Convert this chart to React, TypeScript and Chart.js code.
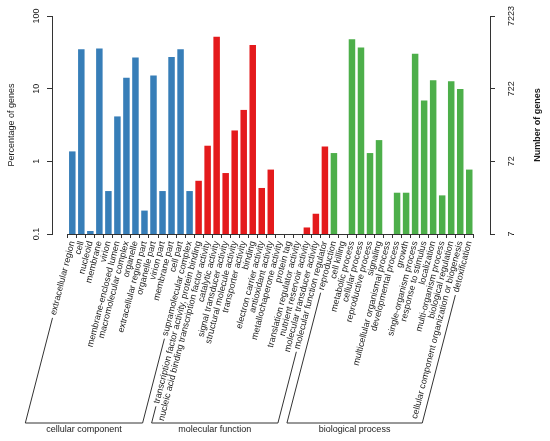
import { useEffect, useRef } from "react"
import { Chart, registerables } from "chart.js"

Chart.register(...registerables)

// GO terms and the share of genes (%) in each
const componentTerms = [
    "extracellular region", "cell", "nucleoid", "membrane", "virion",
    "membrane-enclosed lumen", "macromolecular complex", "organelle",
    "extracellular region part", "organelle part", "virion part",
    "membrane part", "cell part", "supramolecular complex",
]
const componentPercent = [1.37, 35, 0.11, 35.7, 0.39, 4.15, 14.1, 26.9, 0.21, 15.2, 0.39, 27.2, 35, 0.39]

const functionTerms = [
    "transcription factor activity, protein binding",
    "nucleic acid binding transcription factor activity",
    "catalytic activity", "signal transducer activity",
    "structural molecule activity", "transporter activity", "binding",
    "electron carrier activity", "antioxidant activity",
    "metallochaperone activity", "protein tag",
    "translation regulator activity", "nutrient reservoir activity",
    "molecular transducer activity", "molecular function regulator",
]
const functionPercent = [0.54, 1.64, 52, 0.69, 2.66, 5.1, 39.8, 0.43, 0.77, null, null, null, 0.123, 0.19, 1.6]

const processTerms = [
    "reproduction", "cell killing", "metabolic process", "cellular process",
    "reproductive process", "signaling", "multicellular organismal process",
    "developmental process", "growth", "single-organism process",
    "response to stimulus", "localization", "multi-organism process",
    "biological regulation", "cellular component organization or biogenesis",
    "detoxification",
]
const processPercent = [1.3, null, 48, 36.9, 1.3, 1.96, null, 0.37, 0.37, 30.2, 6.9, 13.1, 0.34, 12.6, 9.9, 0.77]

const groupNames = ["cellular component", "molecular function", "biological process"]
const groupColors = ["#377EB8", "#E41A1C", "#4DAF4A"]
const percentTicks = [0.1, 1, 10, 100]
const totalGenes = 7223

const allTerms = [...componentTerms, ...functionTerms, ...processTerms]
const allPercent = [...componentPercent, ...functionPercent, ...processPercent]
const groupSizes = [componentTerms.length, functionTerms.length, processTerms.length]
const barColors = groupSizes.flatMap((n, g) => Array(n).fill(groupColors[g]))

const FONT = '"Liberation Sans", Arial, Helvetica, sans-serif'
const TEXT = "#1a1a1a"
const LINE = "#333333"
const LABEL_ROT = 75.5
const TICK_LEN = 4
const TICK_PAD = 2

// draws the x baseline, the slanted group brackets and the right-hand title
const bracketPlugin = {
    id: "goBrackets",
    afterDraw(chart: Chart) {
        const { ctx, chartArea } = chart
        const x = chart.scales.x
        const rad = (LABEL_ROT * Math.PI) / 180
        const cos = Math.cos(rad)
        const sin = Math.sin(rad)
        const labelTop = x.top + TICK_LEN + TICK_PAD + 5.4 * cos
        const bottomY = 423

        ctx.save()
        ctx.strokeStyle = LINE
        ctx.lineWidth = 1
        ctx.font = `9px ${FONT}`

        ctx.beginPath()
        ctx.moveTo(x.getPixelForValue(-0.5), chartArea.bottom + 0.5)
        ctx.lineTo(x.getPixelForValue(allTerms.length - 0.5), chartArea.bottom + 0.5)
        ctx.stroke()

        let start = 0
        groupSizes.forEach((n, g) => {
            const ends = [start, start + n - 1].map((i) => {
                const tx = x.getPixelForValue(i)
                const w = ctx.measureText(allTerms[i]).width + 3
                const sx = tx - w * cos
                const sy = labelTop + w * sin
                const ex = sx - ((bottomY - sy) * cos) / sin
                return { sx, sy, ex }
            })
            ctx.beginPath()
            ctx.moveTo(ends[0].sx, ends[0].sy)
            ctx.lineTo(ends[0].ex, bottomY)
            ctx.lineTo(ends[1].ex, bottomY)
            ctx.lineTo(ends[1].sx, ends[1].sy)
            ctx.stroke()

            ctx.fillStyle = TEXT
            ctx.textAlign = "center"
            ctx.textBaseline = "middle"
            ctx.fillText(groupNames[g], (ends[0].ex + ends[1].ex) / 2, bottomY + 7)
            start += n
        })

        ctx.translate(538, (chartArea.top + chartArea.bottom) / 2)
        ctx.rotate(-Math.PI / 2)
        ctx.font = `bold 9px ${FONT}`
        ctx.fillStyle = TEXT
        ctx.textAlign = "center"
        ctx.textBaseline = "middle"
        ctx.fillText("Number of genes", 0, 0)
        ctx.restore()
    },
}

export default function App() {
    const chartRef = useRef<HTMLCanvasElement | null>(null)
    const chartInstance = useRef<Chart | null>(null)

    useEffect(() => {
        if (!chartRef.current) return
        if (chartInstance.current) {
            chartInstance.current.destroy()
        }

        Chart.defaults.font.family = FONT
        Chart.defaults.font.size = 9
        Chart.defaults.color = TEXT

        chartInstance.current = new Chart(chartRef.current, {
            type: "bar",
            data: {
                datasets: [
                    {
                        data: allPercent.map((v, i) => ({ x: i, y: v })) as any,
                        backgroundColor: barColors,
                        borderWidth: 0,
                        categoryPercentage: 1,
                        barPercentage: 0.72,
                    },
                ],
            },
            options: {
                animation: false,
                responsive: false,
                events: [],
                layout: { padding: { top: 16, left: 0, right: 0, bottom: 0 } },
                plugins: {
                    legend: { display: false },
                    tooltip: { enabled: false },
                },
                scales: {
                    x: {
                        type: "linear",
                        min: -2.25,
                        max: 46.3,
                        offset: false,
                        border: { display: false },
                        grid: {
                            offset: true,
                            drawOnChartArea: false,
                            drawTicks: true,
                            tickLength: TICK_LEN,
                            color: LINE,
                        },
                        ticks: {
                            autoSkip: false,
                            minRotation: LABEL_ROT,
                            maxRotation: LABEL_ROT,
                            padding: TICK_PAD,
                            color: TEXT,
                            callback: (v) => allTerms[v as number] ?? "",
                        },
                        afterBuildTicks: (s) => {
                            s.ticks = allTerms.map((_, i) => ({ value: i }))
                        },
                        afterFit: (s) => {
                            s.height = 207
                        },
                    },
                    y: {
                        type: "logarithmic",
                        position: "left",
                        min: 0.1,
                        max: 100,
                        border: { color: LINE },
                        grid: { drawOnChartArea: false, tickLength: 5, color: LINE },
                        ticks: {
                            minRotation: 90,
                            maxRotation: 90,
                            crossAlign: "center",
                            padding: 3,
                            color: TEXT,
                            callback: (v) => String(v),
                        },
                        title: {
                            display: true,
                            text: "Percentage of genes",
                            color: TEXT,
                            padding: { top: 6, bottom: 0 },
                        },
                        afterBuildTicks: (s) => {
                            s.ticks = percentTicks.map((v) => ({ value: v }))
                        },
                        afterFit: (s) => {
                            s.width = 52
                        },
                    },
                    genes: {
                        type: "logarithmic",
                        position: "right",
                        min: (percentTicks[0] * totalGenes) / 100,
                        max: totalGenes,
                        border: { color: LINE },
                        grid: { drawOnChartArea: false, tickLength: 5, color: LINE },
                        ticks: {
                            minRotation: 90,
                            maxRotation: 90,
                            crossAlign: "center",
                            padding: 7,
                            color: TEXT,
                            callback: (v) => String(Math.round(v as number)),
                        },
                        afterBuildTicks: (s) => {
                            s.ticks = percentTicks.map((p) => ({ value: (p * totalGenes) / 100 }))
                        },
                        afterFit: (s) => {
                            s.width = 60
                        },
                    },
                },
            },
            plugins: [bracketPlugin],
        })

        return () => {
            if (chartInstance.current) {
                chartInstance.current.destroy()
                chartInstance.current = null
            }
        }
    }, [])

    return (
        <div style={{ position: "absolute", left: 0, top: 0, width: 550, height: 441, background: "#fff" }}>
            <canvas ref={chartRef} width={550} height={441} />
        </div>
    )
}
